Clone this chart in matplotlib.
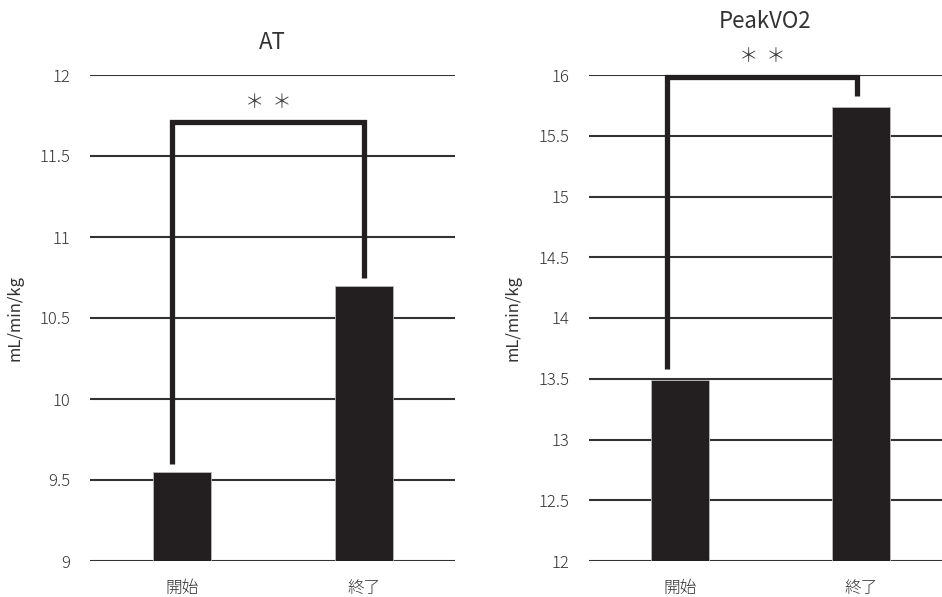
import matplotlib.pyplot as plt

plt.rcParams["font.family"] = ["Noto Sans CJK JP", "DejaVu Sans"]
plt.rcParams["font.weight"] = "light"

# データ
labels = ["開始", "終了"]
at_values = [9.55, 10.70]
peak_values = [13.49, 15.74]

at_ticks = [9, 9.5, 10, 10.5, 11, 11.5, 12]
at_ticklabels = ["9", "9.5", "10", "10.5", "11", "11.5", "12"]
peak_ticks = [12, 12.5, 13, 13.5, 14, 14.5, 15, 15.5, 16]
peak_ticklabels = ["12", "12.5", "13", "13.5", "14", "14.5", "15", "15.5", "16"]

# 有意差ブラケット (左端, 上端, 右端)
at_bracket = [9.60, 11.71, 10.75]
peak_bracket = [13.58, 15.98, 15.83]

bar_color = "#231f20"
grid_color = "#333333"
text_color = "#333333"

fig = plt.figure(figsize=(9.42, 5.97), dpi=100)
ax1 = fig.add_axes([90 / 942, 36 / 597, 365 / 942, 486 / 597])
ax2 = fig.add_axes([589 / 942, 36 / 597, 353 / 942, 486 / 597])


def draw_panel(ax, values, ticks, ticklabels, ylim, xlim, title, title_pad,
               bracket, bx, star_y):
    ax.set_ylim(*ylim)
    ax.set_xlim(*xlim)
    for t in ticks:
        ax.axhline(t, color=grid_color, lw=1.5, zorder=1)
    x = range(len(values))
    ax.bar(x, [v - ylim[0] for v in values], bottom=ylim[0], width=0.32,
           color=bar_color, edgecolor="#bbbbbb", linewidth=0.6, zorder=2)
    # ブラケット
    ax.plot([bx[0], bx[0], bx[1], bx[1]],
            [bracket[0], bracket[1], bracket[1], bracket[2]],
            color=bar_color, lw=3.8, solid_capstyle="butt",
            solid_joinstyle="miter", zorder=3, clip_on=False)
    ax.text((bx[0] + bx[1]) / 2, star_y, "＊\u2009\u2009＊", ha="center",
            va="center", fontsize=14, color=text_color,
            family=["Noto Sans CJK JP", "DejaVu Sans"])
    ax.set_yticks(ticks)
    ax.set_yticklabels(ticklabels)
    ax.set_xticks(list(x))
    ax.set_xticklabels(labels)
    ax.tick_params(length=0, labelsize=12, colors=text_color)
    ax.tick_params(axis="y", pad=14)
    ax.tick_params(axis="x", pad=14)
    for s in ax.spines.values():
        s.set_visible(False)
    ax.set_title(title, fontsize=16, color=text_color, pad=title_pad)
    ax.set_ylabel("mL/min/kg", fontsize=12, color=text_color, labelpad=12)


draw_panel(ax1, at_values, at_ticks, at_ticklabels, (9, 12), (-0.505, 1.5),
           "AT", 19, at_bracket, (-0.055, 1.0), 11.83)
draw_panel(ax2, peak_values, peak_ticks, peak_ticklabels, (12, 16),
           (-0.503, 1.45), "PeakVO2", 34, peak_bracket, (-0.07, 0.98), 16.15)

fig.savefig("out.png", dpi=100)
